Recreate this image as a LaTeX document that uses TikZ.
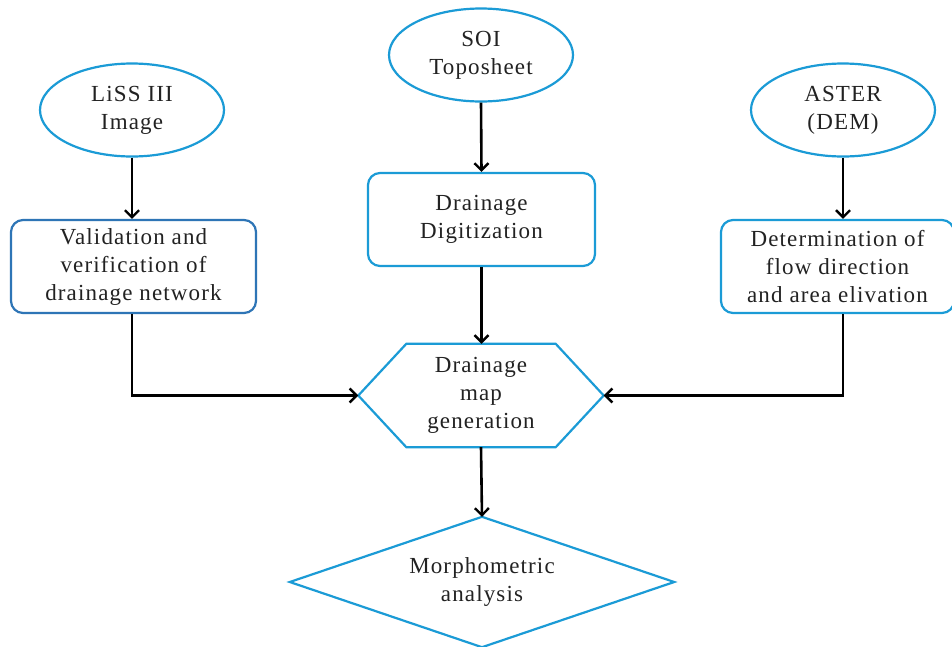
\documentclass[tikz,border=0pt]{standalone}
\usepackage{fontspec}
\setmainfont{Liberation Serif}[LetterSpace=5]
\usetikzlibrary{shapes.geometric,arrows.meta,calc}
\definecolor{lblue}{HTML}{1B9BD6}
\definecolor{dblue}{HTML}{2E75B6}
\definecolor{txt}{HTML}{222222}
\tikzset{
  txtstyle/.style={font=\fontsize{23}{28}\selectfont, text=txt, align=center, inner sep=0pt},
  oval/.style={txtstyle, ellipse, draw=lblue, line width=2.2pt, minimum width=184pt, minimum height=93pt},
  boxl/.style={txtstyle, rectangle, rounded corners=12pt, draw=lblue, line width=2.2pt},
  boxd/.style={txtstyle, rectangle, rounded corners=12pt, draw=dblue, line width=2.2pt},
  arr/.style={line width=2.6pt, black, -{Straight Barb[length=7pt,width=14pt,line width=2.4pt]}},
  shapeline/.style={draw=lblue, line width=2.2pt}
}
\begin{document}
\begin{tikzpicture}[x=1pt,y=-1pt]
\useasboundingbox (0,0) rectangle (952,646);
\fill[white] (0,0) rectangle (952,646);
% ovals
\node[oval] (liss) at (132,110) {LiSS III\\Image};
\node[oval] (soi) at (481,55) {SOI\\Toposheet};
\node[oval] (aster) at (843,110) {ASTER\\(DEM)};
% boxes
\node[boxd, minimum width=245pt, minimum height=93pt] (valid) at (133.5,266.5) {Validation and\\verification of\\drainage network};
\node[boxl, minimum width=227pt, minimum height=93pt] (digit) at (481.5,219.5) {Drainage\\Digitization};
\node[boxl, minimum width=233pt, minimum height=93pt] (deter) at (837.5,266.5) {Determination of\\flow direction\\and area elivation};
% hexagon
\node[txtstyle, minimum width=245pt, minimum height=103pt] (hex) at (481,395.5) {Drainage\\map\\generation};
\draw[shapeline] (hex.west) -- ($(hex.north west)+(48,0)$) -- ($(hex.north east)+(-48,0)$) -- (hex.east)
  -- ($(hex.south east)+(-48,0)$) -- ($(hex.south west)+(48,0)$) -- cycle;
% diamond
\node[txtstyle, minimum width=384pt, minimum height=130pt] (dia) at (482,582) {Morphometric\\analysis};
\draw[shapeline] (dia.north) -- (dia.east) -- (dia.south) -- (dia.west) -- cycle;
% arrows
\draw[arr] (liss.south) -- (liss.south |- valid.north);
\draw[arr] (soi.south) -- (digit.north);
\draw[arr] (aster.south) -- (aster.south |- deter.north);
\draw[arr] (digit.south) -- (digit.south |- hex.north);
\draw[arr] (liss.south |- valid.south) |- (hex.west);
\draw[arr] (aster.south |- deter.south) |- (hex.east);
\draw[arr] (hex.south) -- (dia.north);
\end{tikzpicture}
\end{document}
